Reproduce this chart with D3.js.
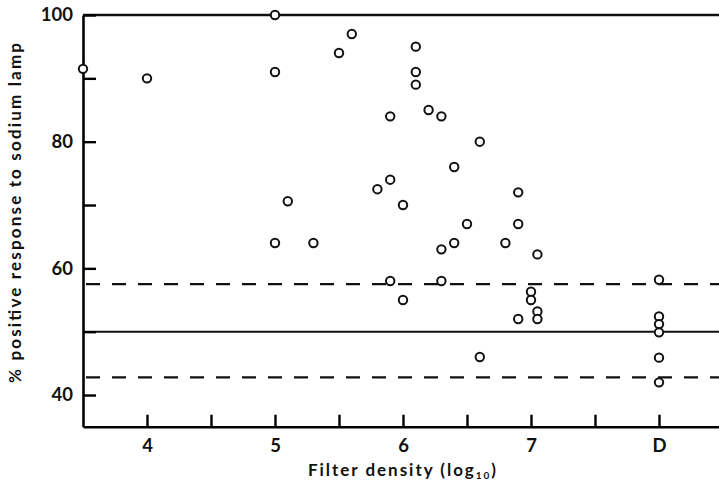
<!DOCTYPE html>
<html>
<head>
<meta charset="utf-8">
<script src="https://cdn.jsdelivr.net/npm/d3@7"></script>
<style>
  html, body { margin: 0; padding: 0; background: #fff; }
  svg { display: block; }
  .tick text { font-family: Lato, "Open Sans", sans-serif; font-weight: 700; fill: #111; }
  .title { font-family: Lato, "Open Sans", sans-serif; font-weight: 700; fill: #111; }
</style>
</head>
<body>
<svg id="chart" width="719" height="487"></svg>
<script>
// Filter density (log10); "D" is drawn at position 8
const densities = [
  3.5, 4, 5, 5, 5.1, 5, 5.3, 5.5, 5.6,
  5.8, 5.9, 5.9, 5.9, 6, 6,
  6.1, 6.1, 6.1, 6.2, 6.3, 6.3, 6.3, 6.4, 6.4,
  6.5, 6.6, 6.6, 6.8, 6.9, 6.9, 6.9,
  7, 7, 7.05, 7.05, 7.05,
  8, 8, 8, 8, 8, 8
];
// % positive response to sodium lamp
const responses = [
  91.5, 90, 100, 91, 70.6, 64, 64, 94, 97,
  72.5, 84, 74, 58, 70, 55,
  95, 91, 89, 85, 84, 63, 58, 76, 64,
  67, 80, 46, 64, 72, 67, 52,
  56.3, 55, 62.2, 53.2, 52,
  58.2, 52.4, 51.2, 49.9, 45.9, 42
];
const xTickValues = [4, 4.5, 5, 5.5, 6, 6.5, 7, 7.5, 8];
const xTickLabels = { 4: "4", 5: "5", 6: "6", 7: "7", 8: "D" };
const yTickValues = [40, 50, 60, 70, 80, 90, 100];
const yTickLabels = [40, 60, 80, 100];
const meanLevel = 50;
const limitLevels = [57.5, 42.8];

const W = 719, H = 487;
const svg = d3.select("#chart");

const x = d3.scaleLinear().domain([3.5, 8.5]).range([83, 723]);
const y = d3.scaleLinear().domain([35, 100]).range([426.7, 15]);

// reference lines
svg.append("line")
  .attr("x1", x(3.5)).attr("x2", W)
  .attr("y1", y(meanLevel)).attr("y2", y(meanLevel))
  .attr("stroke", "#111").attr("stroke-width", 2);

svg.selectAll("line.limit")
  .data(limitLevels)
  .join("line")
  .attr("class", "limit")
  .attr("x1", x(3.5) + 3).attr("x2", W)
  .attr("y1", d => y(d)).attr("y2", d => y(d))
  .attr("stroke", "#111").attr("stroke-width", 2.2)
  .attr("stroke-dasharray", "14 12");

// top frame line
svg.append("line")
  .attr("x1", x(3.5)).attr("x2", W)
  .attr("y1", y(100)).attr("y2", y(100))
  .attr("stroke", "#111").attr("stroke-width", 2.6);

// axes
const yAxis = d3.axisLeft(y)
  .tickValues(yTickValues)
  .tickSize(-13)
  .tickSizeOuter(0)
  .tickPadding(10)
  .tickFormat(d => yTickLabels.includes(d) ? d : "");

svg.append("g")
  .attr("transform", `translate(${x(3.5)},0)`)
  .call(yAxis)
  .call(g => g.select(".domain").attr("stroke-width", 2.6))
  .call(g => g.selectAll(".tick line").attr("stroke-width", 2.4))
  .call(g => g.selectAll(".tick text").attr("font-size", 18.5));

const xAxis = d3.axisBottom(x)
  .tickValues(xTickValues)
  .tickSize(-12)
  .tickSizeOuter(0)
  .tickPadding(12)
  .tickFormat(d => xTickLabels[d] || "");

svg.append("g")
  .attr("transform", `translate(0,${y(35)})`)
  .call(xAxis)
  .call(g => g.select(".domain").attr("stroke-width", 2.6))
  .call(g => g.selectAll(".tick line").attr("stroke-width", 2.4))
  .call(g => g.selectAll(".tick text").attr("font-size", 18.5));

// points
svg.append("g")
  .selectAll("circle")
  .data(densities.map((d, i) => [d, responses[i]]))
  .join("circle")
  .attr("cx", d => x(d[0]))
  .attr("cy", d => y(d[1]))
  .attr("r", 4.2)
  .attr("fill", "#fff")
  .attr("stroke", "#111")
  .attr("stroke-width", 2);

// axis titles
svg.append("text")
  .attr("class", "title")
  .attr("transform", `translate(21,213) rotate(-90)`)
  .attr("text-anchor", "middle")
  .attr("font-size", 17)
  .attr("textLength", 340)
  .attr("lengthAdjust", "spacing")
  .text("% positive response to sodium lamp");

const xt = svg.append("text")
  .attr("class", "title")
  .attr("x", 308)
  .attr("y", 476)
  .attr("font-size", 17)
  .attr("textLength", 188)
  .attr("lengthAdjust", "spacing");
xt.append("tspan").text("Filter density (log");
xt.append("tspan").attr("font-size", 10).attr("dy", 3).text("10");
xt.append("tspan").attr("dy", -3).text(")");
</script>
</body>
</html>
